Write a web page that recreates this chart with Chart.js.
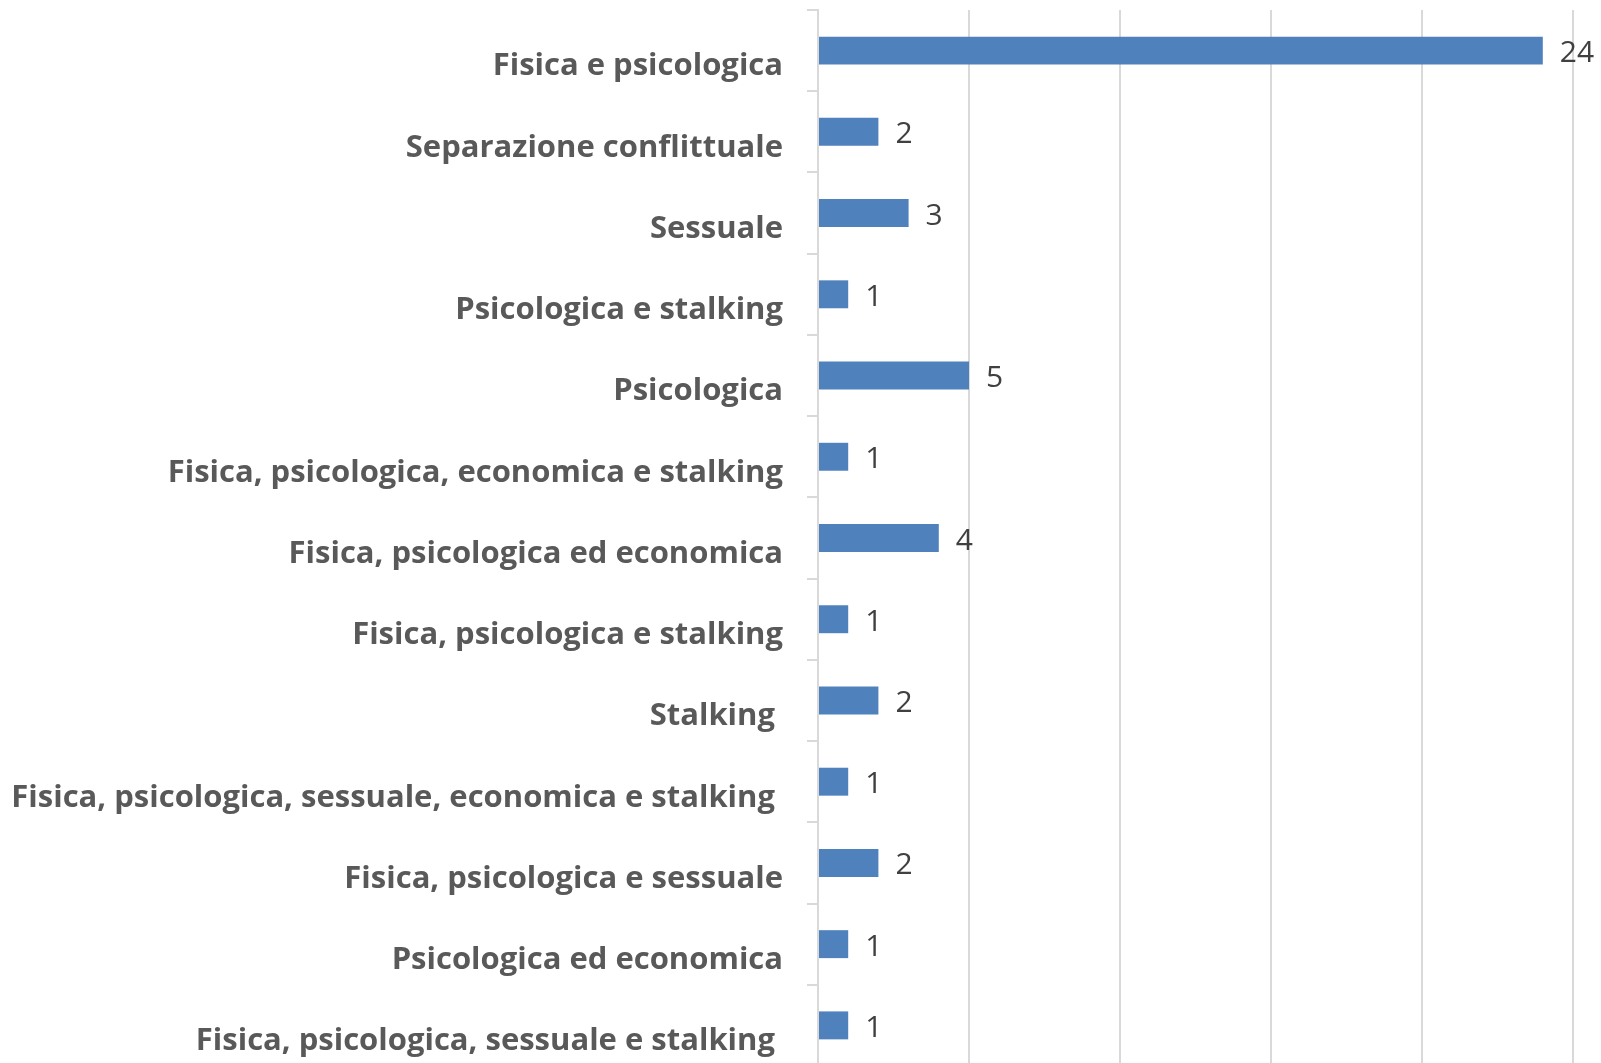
<!DOCTYPE html>
<html>
<head>
<meta charset="utf-8">
<script src="https://cdn.jsdelivr.net/npm/chart.js@4/dist/chart.umd.min.js"></script>
<style>
  html, body { margin: 0; padding: 0; background: #fff; overflow: hidden; }
</style>
</head>
<body>
<canvas id="chart" width="1601" height="1066"></canvas>
<script>
// categorie di violenza (dall'alto in basso)
const categories = [
  'Fisica e psicologica',
  'Separazione conflittuale',
  'Sessuale',
  'Psicologica e stalking',
  'Psicologica',
  'Fisica, psicologica, economica e stalking',
  'Fisica, psicologica ed economica',
  'Fisica, psicologica e stalking',
  'Stalking ',
  'Fisica, psicologica, sessuale, economica e stalking ',
  'Fisica, psicologica e sessuale',
  'Psicologica ed economica',
  'Fisica, psicologica, sessuale e stalking '
];
const counts = [24, 2, 3, 1, 5, 1, 4, 1, 2, 1, 2, 1, 1];
const xTicks = [0, 5, 10, 15, 20, 25];

const valueLabels = {
  id: 'valueLabels',
  afterDatasetsDraw(chart) {
    const ctx = chart.ctx;
    const meta = chart.getDatasetMeta(0);
    ctx.save();
    ctx.font = '400 30px "Open Sans"';
    ctx.fillStyle = '#404040';
    ctx.textAlign = 'left';
    ctx.textBaseline = 'middle';
    meta.data.forEach(function(bar, i) {
      ctx.fillText(String(counts[i]), bar.x + 17, bar.y + 3);
    });
    ctx.restore();
  }
};

const ctx = document.getElementById('chart').getContext('2d');
const chart = new Chart(ctx, {
  type: 'bar',
  data: {
    labels: categories,
    datasets: [{
      data: counts,
      backgroundColor: '#4F81BD',
      borderWidth: 0,
      categoryPercentage: 1,
      barPercentage: 0.344
    }]
  },
  options: {
    indexAxis: 'y',
    responsive: false,
    animation: false,
    layout: { padding: { top: 10, right: 28, left: 0, bottom: 0 } },
    plugins: {
      legend: { display: false },
      tooltip: { enabled: false }
    },
    scales: {
      x: {
        min: xTicks[0],
        max: xTicks[xTicks.length - 1],
        ticks: { display: false, stepSize: xTicks[1] - xTicks[0] },
        grid: { color: '#D9D9D9', lineWidth: 2, drawTicks: false },
        border: { display: false },
        afterFit: function(scale) {
          scale.height = 0;
          scale.paddingLeft = 0;
          scale.paddingRight = 0;
        }
      },
      y: {
        ticks: {
          autoSkip: false,
          color: '#595959',
          font: { family: 'Open Sans', weight: 'bold', size: 31 },
          padding: 24,
          labelOffset: 16
        },
        grid: {
          color: '#D9D9D9',
          lineWidth: 2,
          drawOnChartArea: false,
          drawTicks: true,
          tickLength: 11,
          offset: true
        },
        border: { display: true, color: '#D9D9D9', width: 2 },
        afterFit: function(scale) {
          scale.width = 818;
          scale.paddingTop = 0;
          scale.paddingBottom = 0;
        }
      }
    }
  },
  plugins: [valueLabels]
});
</script>
</body>
</html>
